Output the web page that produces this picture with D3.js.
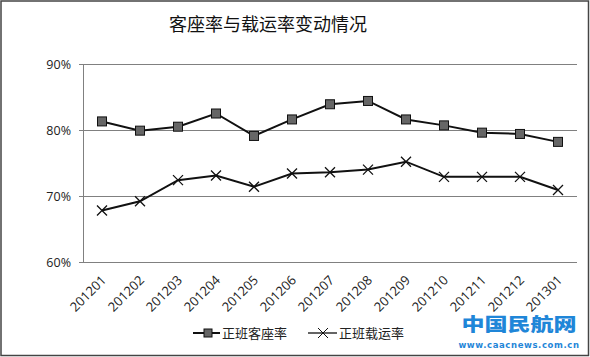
<!DOCTYPE html>
<html><head><meta charset="utf-8">
<script src="https://cdn.jsdelivr.net/npm/d3@7"></script>
<style>body{margin:0;background:#fff}svg{display:block}</style>
</head><body>
<script>
const categories = ["201201","201202","201203","201204","201205","201206","201207","201208","201209","201210","201211","201212","201301"];
const seatRate = [81.3,79.9,80.5,82.5,79.1,81.6,83.9,84.4,81.6,80.7,79.6,79.4,78.2];
const loadRate = [67.8,69.2,72.4,73.1,71.4,73.4,73.6,74.0,75.2,72.9,72.9,72.9,70.9];
const yTicks = [60,70,80,90];
const seriesNames = ["正班客座率","正班载运率"];
const title = "客座率与载运率变动情况";

const W=590,H=357;
const svg=d3.select("body").append("svg").attr("width",W).attr("height",H);
svg.append("rect").attr("x",1).attr("y",1).attr("width",W-2.5).attr("height",H-2.5)
  .attr("fill","#fff").attr("stroke","#444").attr("stroke-width",1.5);

const pL=83,pR=577,pT=64,pB=262;
const x=d3.scaleBand().domain(categories).range([pL,pR]);
const y=d3.scaleLinear().domain([60,90]).range([pB,pT]);

svg.append("text").attr("x",268).attr("y",31).attr("text-anchor","middle")
  .attr("font-family","Noto Sans CJK SC").attr("font-size",18).attr("fill","#111").text(title);

// gridlines
const gy=svg.append("g").attr("transform",`translate(${pL},0)`)
  .call(d3.axisLeft(y).tickValues(yTicks).tickSize(-(pR-pL)).tickSizeOuter(0).tickPadding(12).tickFormat(d=>d+"%"));
gy.select(".domain").remove();
gy.selectAll(".tick line").attr("stroke","#808080").attr("x1",-4);
gy.selectAll(".tick text").attr("font-family","Open Sans, Lato, sans-serif").attr("font-size",12.5).attr("fill","#222");
svg.append("line").attr("x1",pL+0.5).attr("x2",pL+0.5).attr("y1",pT).attr("y2",pB).attr("stroke","#808080");

const gx=svg.append("g").attr("transform",`translate(0,${pB})`)
  .call(d3.axisBottom(x).tickSize(0).tickPadding(0));
gx.select(".domain").remove();
gx.selectAll(".tick text").attr("font-family","Open Sans, Lato, sans-serif").attr("font-size",13).attr("fill","#222")
  .attr("text-anchor","end").attr("dy",0).attr("transform","translate(5,19) rotate(-45)");

const cx=d=>x(d)+x.bandwidth()/2;
const line=d3.line().x((d,i)=>cx(categories[i])).y(d=>y(d));
svg.append("path").datum(seatRate).attr("d",line).attr("fill","none").attr("stroke","#111").attr("stroke-width",2);
svg.append("path").datum(loadRate).attr("d",line).attr("fill","none").attr("stroke","#111").attr("stroke-width",2);

svg.selectAll(".sq").data(seatRate).enter().append("rect")
  .attr("x",(d,i)=>cx(categories[i])-4.5).attr("y",d=>y(d)-4.5).attr("width",9).attr("height",9)
  .attr("fill","#666").attr("stroke","#111").attr("stroke-width",1);
svg.selectAll(".cr").data(loadRate).enter().append("path")
  .attr("d",(d,i)=>{const X=cx(categories[i]),Y=y(d),s=5;return `M${X-s},${Y-s}L${X+s},${Y+s}M${X-s},${Y+s}L${X+s},${Y-s}`;})
  .attr("stroke","#111").attr("stroke-width",1.3).attr("fill","none");

// legend
const lg=svg.append("g").attr("font-family","Noto Sans CJK SC").attr("font-size",13).attr("fill","#222");
lg.append("line").attr("x1",193).attr("x2",220).attr("y1",333).attr("y2",333).attr("stroke","#111").attr("stroke-width",2);
lg.append("rect").attr("x",204).attr("y",329).attr("width",8).attr("height",8).attr("fill","#666").attr("stroke","#111");
lg.append("text").attr("x",222).attr("y",338).text(seriesNames[0]);
lg.append("line").attr("x1",308).attr("x2",337).attr("y1",333).attr("y2",333).attr("stroke","#111").attr("stroke-width",1.3);
lg.append("path").attr("d","M318,328L328,338M318,338L328,328").attr("stroke","#111").attr("stroke-width",1);
lg.append("text").attr("x",339).attr("y",338).text(seriesNames[1]);

// watermark
svg.append("text").attr("x",519).attr("y",0).attr("text-anchor","middle")
  .attr("transform","translate(0,331) scale(1,0.78)")
  .attr("font-family","Noto Sans CJK SC").attr("font-weight",900).attr("font-size",23).attr("fill","#1f86d8")
  .text("中国民航网");
svg.append("text").attr("x",519).attr("y",348).attr("text-anchor","middle")
  .attr("font-family","DejaVu Sans").attr("font-weight","bold").attr("font-size",8.5).attr("fill","#1f86d8")
  .attr("letter-spacing",0.6).text("www.caacnews.com.cn");
</script>
</body></html>
